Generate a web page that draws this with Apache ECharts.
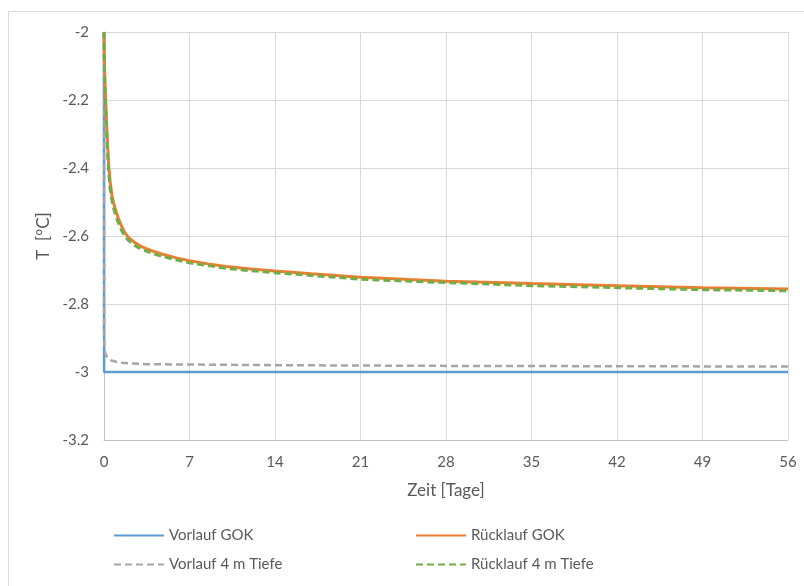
<!DOCTYPE html>
<html>
<head>
<meta charset="utf-8">
<script src="https://cdn.jsdelivr.net/npm/echarts@6/dist/echarts.min.js"></script>
<style>html,body{margin:0;padding:0;background:#fff;}#c{width:804px;height:586px;}</style>
</head>
<body>
<div id="c"></div>
<script>
// Series names
var seriesNames = ['Vorlauf GOK', 'Rücklauf GOK', 'Vorlauf 4 m Tiefe', 'Rücklauf 4 m Tiefe'];

// Time (days) and temperatures (°C)
var tVorlaufGOK = [0, 0.01, 56];
var vVorlaufGOK = [-2.0, -3.0, -3.0];

var tRueck = [0, 0.01, 0.03, 0.06, 0.1, 0.16, 0.25, 0.38, 0.5, 0.65, 0.8, 1.0, 1.2, 1.45, 1.7, 2.0, 2.4, 2.9, 3.5, 4.2, 5, 6, 7, 8.5, 10, 12, 14, 17, 21, 25, 28, 32, 35, 42, 49, 56];
var vRuecklaufGOK = [-2.0, -2.03, -2.08, -2.13, -2.17, -2.22, -2.3, -2.39, -2.44, -2.48, -2.505, -2.53, -2.55, -2.572, -2.59, -2.604, -2.616, -2.628, -2.638, -2.647, -2.656, -2.665, -2.673, -2.682, -2.69, -2.697, -2.703, -2.711, -2.721, -2.728, -2.733, -2.737, -2.740, -2.746, -2.752, -2.756];
var vRuecklauf4m = [-2.0, -2.04, -2.09, -2.145, -2.19, -2.24, -2.32, -2.41, -2.46, -2.495, -2.52, -2.545, -2.563, -2.584, -2.6, -2.613, -2.625, -2.636, -2.645, -2.654, -2.662, -2.671, -2.679, -2.687, -2.695, -2.702, -2.708, -2.716, -2.727, -2.733, -2.737, -2.742, -2.746, -2.752, -2.758, -2.761];

var tVorlauf4m = [0, 0.01, 0.03, 0.06, 0.1, 0.2, 0.35, 0.6, 1, 1.5, 2.2, 3.5, 7, 14, 28, 42, 56];
var vVorlauf4m = [-2.0, -2.88, -2.925, -2.937, -2.945, -2.953, -2.96, -2.966, -2.97, -2.973, -2.975, -2.977, -2.978, -2.980, -2.982, -2.983, -2.984];

// Axis ticks
var xMin = 0, xMax = 56, xStep = 7;
var yMin = -3.2, yMax = -2, yStep = 0.2;

function pairs(t, v) { return t.map(function (x, i) { return [x, v[i]]; }); }

var textColor = '#595959';
var font = 'Lato, "Open Sans", sans-serif';
var colors = ['#5B9BD5', '#ED7D31', '#A5A5A5', '#70AD47'];

var chart = echarts.init(document.getElementById('c'), null, {renderer: 'canvas'});

function legendAt(name, left, top) {
  return {
    data: [name], left: left, top: top, itemWidth: 50, itemHeight: 12,
    itemStyle: {opacity: 0},
    textStyle: {color: textColor, fontSize: 15, fontFamily: font}
  };
}

chart.setOption({
  animation: false,
  backgroundColor: '#fff',
  graphic: [{
    type: 'rect', shape: {x: 8.5, y: 11.5, width: 800, height: 580},
    style: {fill: 'none', stroke: '#d9d9d9', lineWidth: 1}, silent: true
  }],
  grid: {left: 104, right: 16, top: 32, bottom: 146},
  legend: [
    legendAt(seriesNames[0], 108, 523),
    legendAt(seriesNames[1], 410, 523),
    legendAt(seriesNames[2], 108, 552),
    legendAt(seriesNames[3], 410, 552)
  ],
  xAxis: {
    type: 'value', min: xMin, max: xMax, interval: xStep,
    name: 'Zeit [Tage]', nameLocation: 'middle', nameGap: 42,
    nameTextStyle: {color: textColor, fontSize: 17, fontFamily: font},
    axisLine: {show: true, lineStyle: {color: '#bfbfbf', width: 1}},
    axisTick: {show: false},
    axisLabel: {color: textColor, fontSize: 15, fontFamily: font, margin: 15},
    splitLine: {show: true, lineStyle: {color: '#d9d9d9', width: 1}}
  },
  yAxis: {
    type: 'value', min: yMin, max: yMax, interval: yStep,
    name: 'T  [°C]', nameLocation: 'middle', nameGap: 52, nameRotate: 90,
    nameTextStyle: {color: textColor, fontSize: 17, fontFamily: font},
    axisLine: {show: true, onZero: false, lineStyle: {color: '#bfbfbf', width: 1}},
    axisTick: {show: false},
    axisLabel: {color: textColor, fontSize: 15, fontFamily: font, margin: 15,
      formatter: function (v) { return String(Math.round(v * 10) / 10); }},
    splitLine: {show: true, lineStyle: {color: '#d9d9d9', width: 1}}
  },
  series: [
    {name: seriesNames[0], type: 'line', showSymbol: false, symbol: 'none',
      data: pairs(tVorlaufGOK, vVorlaufGOK), color: colors[0],
      lineStyle: {color: colors[0], width: 2.5}},
    {name: seriesNames[1], type: 'line', showSymbol: false, symbol: 'none',
      data: pairs(tRueck, vRuecklaufGOK), color: colors[1],
      lineStyle: {color: colors[1], width: 3}},
    {name: seriesNames[2], type: 'line', showSymbol: false, symbol: 'none',
      data: pairs(tVorlauf4m, vVorlauf4m), color: colors[2],
      lineStyle: {color: colors[2], width: 2.5, type: [7, 4]}},
    {name: seriesNames[3], type: 'line', showSymbol: false, symbol: 'none',
      data: pairs(tRueck, vRuecklauf4m), color: colors[3],
      lineStyle: {color: colors[3], width: 3, type: [7, 4]}}
  ]
});
</script>
</body>
</html>
